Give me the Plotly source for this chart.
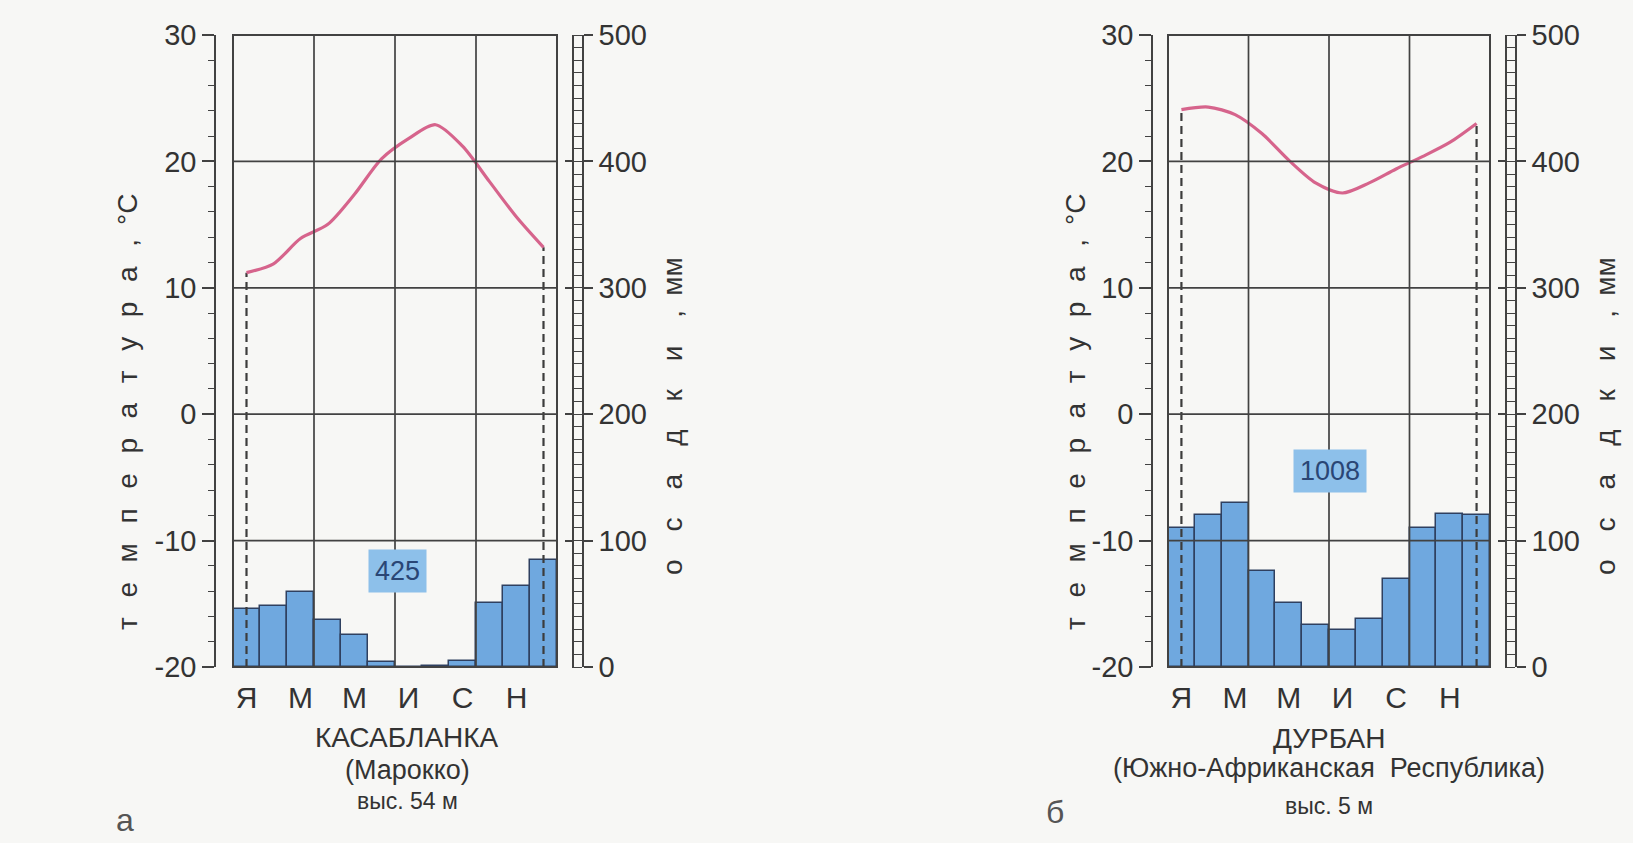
import plotly.graph_objects as go

W, H = 1633, 843

# ---------------- data ----------------
months = list(range(1, 13))
month_ticks = [1, 3, 5, 7, 9, 11]
month_labels = ["Я", "М", "М", "И", "С", "Н"]

casa_temp = [11.2, 11.9, 13.9, 15.0, 17.4, 20.2, 21.8, 22.9, 21.2, 18.4, 15.6, 13.2]
casa_precip = [46, 48, 59, 37, 25, 4, 0, 1, 5, 51, 64, 85]
casa_total = 425
casa_name = ["КАСАБЛАНКА", "(Марокко)", "выс. 54 м"]

durb_temp = [24.1, 24.3, 23.7, 22.2, 20.1, 18.3, 17.5, 18.3, 19.4, 20.4, 21.5, 23.0]
durb_precip = [110, 120, 130, 76, 51, 33, 29, 38, 70, 110, 121, 120]
durb_total = 1008
durb_name = ["ДУРБАН", "(Южно-Африканская\u00a0\u00a0Республика)", "выс. 5 м"]

temp_range = [-20, 30]
temp_ticks = [-20, -10, 0, 10, 20, 30]
temp_tick_labels = ["-20", "-10", "0", "10", "20", "30"]
precip_range = [0, 500]
precip_ticks = [0, 100, 200, 300, 400, 500]
precip_tick_labels = ["0", "100", "200", "300", "400", "500"]
grid_temps = [-10, 0, 10, 20]
season_bounds = [3.5, 6.5, 9.5]

temp_title = "температура,"
precip_title = "осадки,"

# ---------------- styles ----------------
FONT = "Liberation Sans, Arial, sans-serif"
AX = "#424242"
TXT = "#333333"
BAR = "#6fa8df"
BAR_EDGE = "#2f4060"
LINE = "#d6648c"
TOT_BG = "#8dc0ea"
TOT_TXT = "#2a4675"
BG = "#f7f7f5"


def fx(px):
    return px / W


def fy(py):
    return 1 - py / H


def spaced(word, sep):
    return sep.join(list(word))


TOP, BOTTOM = 35, 667

panels = [
    dict(temp=casa_temp, precip=casa_precip, total=casa_total, name=casa_name,
         box=(233, 557), taxis=215, rail=573, paxis=583,
         ttitle=127, ptitle=673, tot_pos=(6.6, 76), name_x=407, name_y=(737, 770, 801),
         letter="а", letter_pos=(125, 820)),
    dict(temp=durb_temp, precip=durb_precip, total=durb_total, name=durb_name,
         box=(1168, 1490), taxis=1152, rail=1506, paxis=1516,
         ttitle=1075, ptitle=1606, tot_pos=(6.55, 155), name_x=1329, name_y=(738, 768, 806),
         letter="б", letter_pos=(1055, 812)),
]

fig = go.Figure()
layout = dict(
    width=W, height=H, margin=dict(l=0, r=0, t=0, b=0, autoexpand=False),
    paper_bgcolor=BG, plot_bgcolor="rgba(0,0,0,0)",
    showlegend=False, bargap=0,
)
shapes = []
annotations = []

tick_font = dict(family=FONT, size=29, color=TXT)
grid_line = dict(color=AX, width=1.7)

for i, p in enumerate(panels):
    xs = "x" if i == 0 else "x2"
    xn = "xaxis" if i == 0 else "xaxis2"
    yb, yt, yr = (1, 2, 3) if i == 0 else (4, 5, 6)
    ybs, yts, yrs = ("y" if yb == 1 else f"y{yb}"), f"y{yt}", f"y{yr}"
    ybn = "yaxis" if yb == 1 else f"yaxis{yb}"

    layout[xn] = dict(
        domain=[fx(p["box"][0]), fx(p["box"][1])], range=[0.5, 12.5],
        anchor=ybs, tickmode="array", tickvals=month_ticks, ticktext=month_labels,
        ticks="", showline=False, showgrid=False, zeroline=False, automargin=False,
        tickfont=dict(family=FONT, size=30, color=TXT), ticklabelstandoff=10,
    )
    # precipitation axis (base)
    layout[ybn] = dict(
        domain=[fy(BOTTOM), fy(TOP)], range=precip_range, anchor="free",
        position=fx(p["paxis"]), side="right", showline=True, linecolor=AX, linewidth=1.5,
        ticks="outside", ticklen=9, tickwidth=1.5, tickcolor=AX,
        tickmode="array", tickvals=precip_ticks, ticktext=precip_tick_labels,
        tickfont=tick_font, showgrid=False, zeroline=False, automargin=False,
        minor=dict(ticks="inside", tickmode="linear", tick0=0, dtick=10, ticklen=10,
                   tickcolor=AX, tickwidth=1, showgrid=False),
    )
    # temperature axis
    layout[f"yaxis{yt}"] = dict(
        range=temp_range, overlaying=ybs, anchor="free", position=fx(p["taxis"]),
        side="left", showline=True, linecolor=AX, linewidth=1.5,
        ticks="outside", ticklen=12, tickwidth=1.5, tickcolor=AX,
        tickmode="array", tickvals=temp_ticks, ticktext=temp_tick_labels,
        tickfont=tick_font, showgrid=False, zeroline=False, automargin=False,
        minor=dict(ticks="outside", tickmode="linear", tick0=0, dtick=2, ticklen=6,
                   tickcolor=AX, tickwidth=1.2, showgrid=False),
    )
    # second rail of the precipitation ladder
    layout[f"yaxis{yr}"] = dict(
        range=precip_range, overlaying=ybs, anchor="free", position=fx(p["rail"]),
        side="right", showline=True, linecolor=AX, linewidth=1.5,
        ticks="inside", ticklen=7, tickwidth=1.5, tickcolor=AX,
        tickmode="array", tickvals=precip_ticks, showticklabels=False,
        showgrid=False, zeroline=False, automargin=False,
    )

    fig.add_trace(go.Bar(
        x=months, y=p["precip"], xaxis=xs, yaxis=ybs, width=1,
        marker=dict(color=BAR, line=dict(color=BAR_EDGE, width=1.5)),
        hoverinfo="skip",
    ))
    fig.add_trace(go.Scatter(
        x=months, y=p["precip"], xaxis=xs, yaxis=yrs, mode="markers",
        marker=dict(opacity=0), hoverinfo="skip",
    ))
    fig.add_trace(go.Scatter(
        x=[months[0], months[0], None, months[-1], months[-1]],
        y=[temp_range[0], p["temp"][0], None, temp_range[0], p["temp"][-1]],
        xaxis=xs, yaxis=yts, mode="lines",
        line=dict(color="#3c3c3c", width=2.2, dash="8px,5px"), hoverinfo="skip",
    ))
    fig.add_trace(go.Scatter(
        x=months, y=p["temp"], xaxis=xs, yaxis=yts, mode="lines",
        line=dict(color=LINE, width=3.2, shape="spline", smoothing=0.8), hoverinfo="skip",
    ))

    # grid and frame
    for t in grid_temps:
        shapes.append(dict(type="line", xref=f"{xs} domain", yref=yts, x0=0, x1=1,
                           y0=t, y1=t, layer="above", line=grid_line))
    for b in season_bounds:
        shapes.append(dict(type="line", xref=xs, yref=f"{ybs} domain", x0=b, x1=b,
                           y0=0, y1=1, layer="above", line=grid_line))
    shapes.append(dict(type="rect", xref=f"{xs} domain", yref=f"{ybs} domain",
                       x0=0, x1=1, y0=0, y1=1, layer="above", line=dict(color=AX, width=2)))

    # annual total
    annotations.append(dict(
        x=p["tot_pos"][0], y=p["tot_pos"][1], xref=xs, yref=ybs, text=str(p["total"]),
        showarrow=False, bgcolor=TOT_BG, borderpad=6,
        xanchor="center", yanchor="middle",
        font=dict(family=FONT, size=27, color=TOT_TXT),
    ))

    # axis titles
    t_text = spaced(temp_title, "\u2002\u2009") + "\u2002\u00b0С"
    annotations.append(dict(
        x=fx(p["ttitle"]), y=fy(412), xref="paper", yref="paper", text=t_text,
        textangle=-90, showarrow=False, xanchor="center", yanchor="middle",
        font=dict(family=FONT, size=28, color=TXT),
    ))
    p_text = spaced(precip_title, "\u2003") + "\u2002мм"
    annotations.append(dict(
        x=fx(p["ptitle"]), y=fy(416), xref="paper", yref="paper", text=p_text,
        textangle=-90, showarrow=False, xanchor="center", yanchor="middle",
        font=dict(family=FONT, size=28, color=TXT),
    ))

    # station name
    sizes = [28, 27, 23]
    for line_text, yy, sz in zip(p["name"], p["name_y"], sizes):
        annotations.append(dict(
            x=fx(p["name_x"]), y=fy(yy), xref="paper", yref="paper", text=line_text,
            showarrow=False, xanchor="center", yanchor="middle",
            font=dict(family=FONT, size=sz, color=TXT),
        ))
    annotations.append(dict(
        x=fx(p["letter_pos"][0]), y=fy(p["letter_pos"][1]), xref="paper", yref="paper",
        text=p["letter"], showarrow=False, xanchor="center", yanchor="middle",
        font=dict(family=FONT, size=32, color="#555555"),
    ))

layout["shapes"] = shapes
layout["annotations"] = annotations
fig.update_layout(**layout)

fig.write_html(
    "out.html",
    config={"displayModeBar": False},
    post_script="document.body.style.margin='0';document.body.style.overflow='hidden';",
)
